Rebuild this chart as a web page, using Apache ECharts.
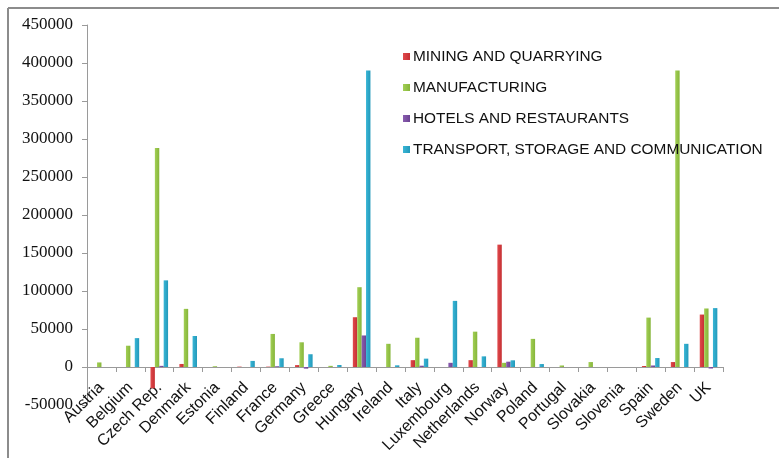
<!DOCTYPE html>
<html>
<head>
<meta charset="utf-8">
<script src="https://cdn.jsdelivr.net/npm/echarts@6/dist/echarts.min.js"></script>
<style>
  html, body { margin: 0; padding: 0; background: #fff; }
  #chart { width: 779px; height: 458px; }
</style>
</head>
<body>
<div id="chart"></div>
<script>
// Countries along the horizontal axis
const countries = ['Austria', 'Belgium', 'Czech Rep.', 'Denmark', 'Estonia', 'Finland', 'France',
  'Germany', 'Greece', 'Hungary', 'Ireland', 'Italy', 'Luxembourg', 'Netherlands', 'Norway',
  'Poland', 'Portugal', 'Slovakia', 'Slovenia', 'Spain', 'Sweden', 'UK'];

// Series names shown in the legend
const seriesNames = ['MINING AND QUARRYING', 'MANUFACTURING', 'HOTELS AND RESTAURANTS',
  'TRANSPORT, STORAGE AND COMMUNICATION'];

// Values per sector, one entry per country
const mining        = [0, 0, -28000, 4000, 0, 500, 500, 2500, 0, 65500, 0, 9000, 0, 9000, 161000, 0, 0, 0, 0, 1300, 6500, 69000];
const manufacturing = [6000, 28000, 288000, 76500, 1000, 0, 43500, 32500, 1500, 105000, 30500, 38500, 0, 46500, 5500, 37000, 2000, 6500, 0, 65000, 390000, 77000];
const hotels        = [0, 0, 1500, 0, 0, 0, 1000, -2200, 0, 41500, 0, 1700, 5500, 0, 7000, 0, 0, 0, 0, 2000, 0, -2000];
const transport     = [0, 38000, 114000, 40800, 0, 8000, 11500, 16800, 2600, 390000, 2200, 11000, 87000, 14000, 8800, 3900, 0, 0, 0, 11800, 30500, 77500];

// Y axis range and step
const yMin = -50000, yMax = 450000, yStep = 50000;

const colors = [
  ['#e04a4c', '#c52f33'],
  ['#a2cf55', '#86b53a'],
  ['#8a5db0', '#6c4392'],
  ['#39b6d6', '#2399ba']
];

function fill(pair) {
  return new echarts.graphic.LinearGradient(0, 0, 1, 0, [
    { offset: 0, color: pair[0] },
    { offset: 1, color: pair[1] }
  ]);
}

const values = [mining, manufacturing, hotels, transport];

const chart = echarts.init(document.getElementById('chart'), null, { renderer: 'canvas' });
chart.setOption({
  animation: false,
  backgroundColor: '#fff',
  grid: { left: 87, right: 56, top: 25, bottom: 53, containLabel: false, outerBoundsMode: 'none' },
  legend: {
    orient: 'vertical',
    left: 398,
    top: 44,
    itemWidth: 7,
    itemHeight: 7,
    itemGap: 16,
    icon: 'rect',
    textStyle: { fontFamily: 'Liberation Sans, Arial, sans-serif', fontSize: 15.4, color: '#111', padding: [0, 0, 0, -2] },
    data: seriesNames
  },
  xAxis: {
    type: 'category',
    data: countries,
    axisLine: { onZero: true, lineStyle: { color: '#9a9a9a', width: 1 } },
    axisTick: { show: true, length: 5, lineStyle: { color: '#9a9a9a' } },
    axisLabel: {
      rotate: 45,
      interval: 0,
      margin: -20,
      fontFamily: 'Liberation Sans, Arial, sans-serif',
      fontSize: 16,
      color: '#111'
    },
    splitLine: { show: false }
  },
  yAxis: {
    type: 'value',
    min: yMin,
    max: yMax,
    interval: yStep,
    axisLine: { show: true, lineStyle: { color: '#9a9a9a', width: 1 } },
    axisTick: { show: true, length: 5, lineStyle: { color: '#9a9a9a' } },
    axisLabel: {
      margin: 14,
      fontFamily: 'Liberation Serif, Times New Roman, serif',
      fontSize: 17,
      color: '#111',
      formatter: v => String(v)
    },
    splitLine: { show: false }
  },
  series: seriesNames.map((name, i) => ({
    name: name,
    type: 'bar',
    data: values[i],
    barWidth: 4.4,
    barGap: '0%',
    itemStyle: { color: fill(colors[i]) },
    legendHoverLink: false
  })),
  color: colors.map(c => c[1]),
  graphic: [
    { type: 'line', shape: { x1: 8, y1: 8, x2: 779, y2: 8 }, style: { stroke: '#8c8c8c', lineWidth: 2 } },
    { type: 'line', shape: { x1: 8, y1: 8, x2: 8, y2: 458 }, style: { stroke: '#8c8c8c', lineWidth: 2 } }
  ]
});
</script>
</body>
</html>
